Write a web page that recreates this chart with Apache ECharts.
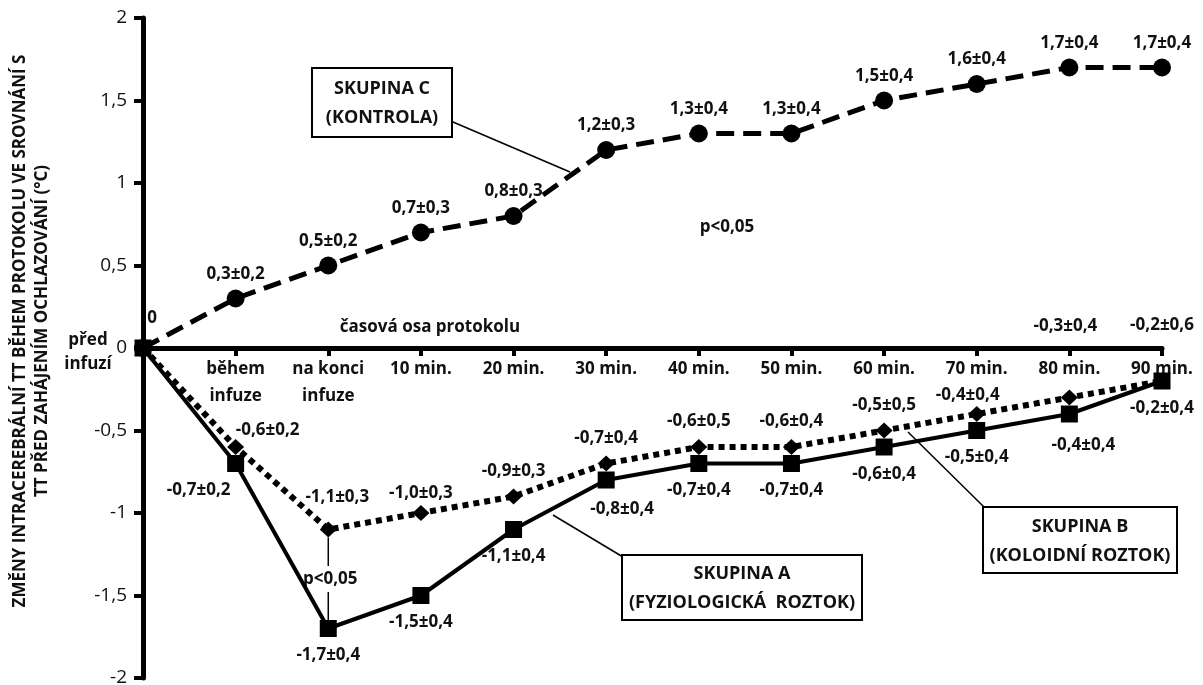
<!DOCTYPE html>
<html>
<head>
<meta charset="utf-8">
<script src="https://cdn.jsdelivr.net/npm/echarts@6/dist/echarts.min.js"></script>
<style>
html,body{margin:0;padding:0;background:#fff;}
#chart{width:1203px;height:685px;}
</style>
</head>
<body>
<div id="chart"></div>
<script>
// ---- data ----
const categories = ['před\ninfuzí','během\ninfuze','na konci\ninfuze','10 min.','20 min.','30 min.','40 min.','50 min.','60 min.','70 min.','80 min.','90 min.'];
const skupinaC   = [0, 0.3, 0.5, 0.7, 0.8, 1.2, 1.3, 1.3, 1.5, 1.6, 1.7, 1.7];
const skupinaCSd = [null, 0.2, 0.2, 0.3, 0.3, 0.3, 0.4, 0.4, 0.4, 0.4, 0.4, 0.4];
const skupinaA   = [0, -0.7, -1.7, -1.5, -1.1, -0.8, -0.7, -0.7, -0.6, -0.5, -0.4, -0.2];
const skupinaASd = [null, 0.2, 0.4, 0.4, 0.4, 0.4, 0.4, 0.4, 0.4, 0.4, 0.4, 0.4];
const skupinaB   = [0, -0.6, -1.1, -1.0, -0.9, -0.7, -0.6, -0.6, -0.5, -0.4, -0.3, -0.2];
const skupinaBSd = [null, 0.2, 0.3, 0.3, 0.3, 0.4, 0.5, 0.4, 0.5, 0.4, 0.4, 0.6];
const yMin = -2, yMax = 2, yStep = 0.5;
const yAxisTitle = 'ZMĚNY INTRACEREBRÁLNÍ TT BĚHEM PROTOKOLU VE SROVNÁNÍ S\nTT PŘED ZAHÁJENÍM OCHLAZOVÁNÍ (°C)';
const xAxisTitle = 'časová osa protokolu';
const pText = 'p<0,05';
const boxC = 'SKUPINA C\n(KONTROLA)';
const boxA = 'SKUPINA A\n(FYZIOLOGICKÁ  ROZTOK)';
const boxB = 'SKUPINA B\n(KOLOIDNÍ ROZTOK)';

// ---- styling (label offsets per point) ----
const FONT = '"Open Sans", sans-serif';
const offC = {0: [9, -5]};
const offA = {1: [-37, 0], 5: [16, 2], 10: [14, 4]};
const offB = {1: [32, 9], 2: [9, -7], 3: [0, 6], 9: [-9, 7], 10: [-4, -46], 11: [0, -30]};

const fmt = v => v.toFixed(1).replace('.', ',');
function buildData(vals, sds, offs, showFirst) {
  return vals.map((v, i) => {
    const item = {value: v, label: {}};
    if (i === 0 && !showFirst) item.label.show = false;
    if (offs[i]) item.label.offset = offs[i];
    item.label.formatter = (sds[i] == null) ? '0' : fmt(v) + '±' + fmt(sds[i]);
    return item;
  });
}
const labelStyle = {show: true, fontFamily: FONT, fontWeight: 'bold', fontSize: 17, color: '#111'};

const GRID = {left: 143, right: 41, top: 18, bottom: 7};
const chartH = 685;
const zeroOffset = -((chartH - GRID.top - GRID.bottom) * (0 - yMin) / (yMax - yMin));

const chart = echarts.init(document.getElementById('chart'));
const option = {
  animation: false,
  backgroundColor: '#fff',
  grid: Object.assign({outerBoundsMode: 'none', containLabel: false}, GRID),
  xAxis: {
    type: 'category', data: categories, boundaryGap: false, position: 'bottom', offset: zeroOffset,
    axisLine: {onZero: false, lineStyle: {color: '#000', width: 5}},
    axisTick: {show: true, length: 8, lineStyle: {color: '#000', width: 4}},
    axisLabel: {interval: 0, margin: 8, fontFamily: FONT, fontWeight: 'bold', fontSize: 17, lineHeight: 27, color: '#111',
      formatter: (v, i) => i === 0 ? '' : v},
    splitLine: {show: false}
  },
  yAxis: {
    type: 'value', min: yMin, max: yMax, interval: yStep,
    axisLine: {show: true, lineStyle: {color: '#000', width: 5}},
    axisTick: {show: true, length: 9, lineStyle: {color: '#000', width: 4}},
    axisLabel: {margin: 16, fontFamily: FONT, fontSize: 19, color: '#111', formatter: v => String(v).replace('.', ',')},
    splitLine: {show: false},
    name: yAxisTitle, nameLocation: 'middle', nameGap: 90,
    nameTextStyle: {fontFamily: FONT, fontWeight: 'bold', fontSize: 17, lineHeight: 22, color: '#111', padding: [0, 0, 0, 34]}
  },
  series: [
    {
      name: 'C', type: 'line', data: buildData(skupinaC, skupinaCSd, offC, true),
      symbol: 'circle', symbolSize: 18, itemStyle: {color: '#000'},
      lineStyle: {color: '#000', width: 5, type: [18, 9]},
      label: Object.assign({position: 'top', distance: 7}, labelStyle), z: 3
    },
    {
      name: 'B', type: 'line', data: buildData(skupinaB, skupinaBSd, offB, false),
      symbol: 'diamond', symbolSize: [17, 16], itemStyle: {color: '#000'},
      lineStyle: {color: '#000', width: 6, type: [6, 5]},
      label: Object.assign({position: 'top', distance: 9}, labelStyle), z: 4
    },
    {
      name: 'A', type: 'line', data: buildData(skupinaA, skupinaASd, offA, false),
      symbol: 'rect', symbolSize: 17, itemStyle: {color: '#000'},
      lineStyle: {color: '#000', width: 4, type: 'solid'},
      label: Object.assign({position: 'bottom', distance: 10}, labelStyle), z: 5
    }
  ]
};
chart.setOption(option);

// ---- annotations positioned via the chart's own scales ----
const P = (i, v) => chart.convertToPixel({xAxisIndex: 0, yAxisIndex: 0}, [i, v]);
const origin = P(0, 0);
const pTop = P(2, skupinaB[2]);
const pBot = P(2, skupinaA[2]);
const pMid = (pTop[1] + pBot[1]) / 2;
const boxStyle = {fill: '#fff', stroke: '#000', lineWidth: 2};
const boxText = {fontFamily: FONT, fontWeight: 'bold', fontSize: 18, lineHeight: 29, fill: '#111', align: 'center', verticalAlign: 'middle'};
function box(x, y, w, h, text) {
  return {type: 'group', children: [
    {type: 'rect', shape: {x: x, y: y, width: w, height: h}, style: boxStyle, z: 10},
    {type: 'text', x: x + w / 2, y: y + h / 2 + 1, style: Object.assign({text: text}, boxText), z: 11}
  ]};
}
const lineStyle = {stroke: '#000', lineWidth: 1.5};
chart.setOption({
  graphic: [
    {type: 'text', x: origin[0] - 55, y: origin[1] + 4, style: {text: categories[0], fontFamily: FONT, fontWeight: 'bold', fontSize: 17, lineHeight: 24, fill: '#111', align: 'center', verticalAlign: 'middle'}},
    {type: 'text', x: 430, y: 327, style: {text: xAxisTitle, fontFamily: FONT, fontWeight: 'bold', fontSize: 17, fill: '#111', align: 'center', verticalAlign: 'middle'}},
    {type: 'text', x: 727, y: 227, style: {text: pText, fontFamily: FONT, fontWeight: 'bold', fontSize: 17, fill: '#111', align: 'center', verticalAlign: 'middle'}},
    {type: 'line', shape: {x1: pTop[0], y1: pTop[1] + 8, x2: pTop[0], y2: pMid - 13}, style: lineStyle},
    {type: 'line', shape: {x1: pBot[0], y1: pMid + 13, x2: pBot[0], y2: pBot[1] - 8}, style: lineStyle},
    {type: 'text', x: pTop[0] + 2, y: pMid, style: {text: pText, fontFamily: FONT, fontWeight: 'bold', fontSize: 17, fill: '#111', align: 'center', verticalAlign: 'middle'}},
    {type: 'line', shape: {x1: 453, y1: 122, x2: 570, y2: 172}, style: lineStyle},
    {type: 'line', shape: {x1: 553, y1: 515, x2: 623, y2: 557}, style: lineStyle},
    {type: 'line', shape: {x1: 908, y1: 432, x2: 984, y2: 507}, style: lineStyle},
    box(312, 68, 140, 69, boxC),
    box(622, 555, 240, 65, boxA),
    box(983, 507, 194, 66, boxB)
  ]
});
</script>
</body>
</html>
